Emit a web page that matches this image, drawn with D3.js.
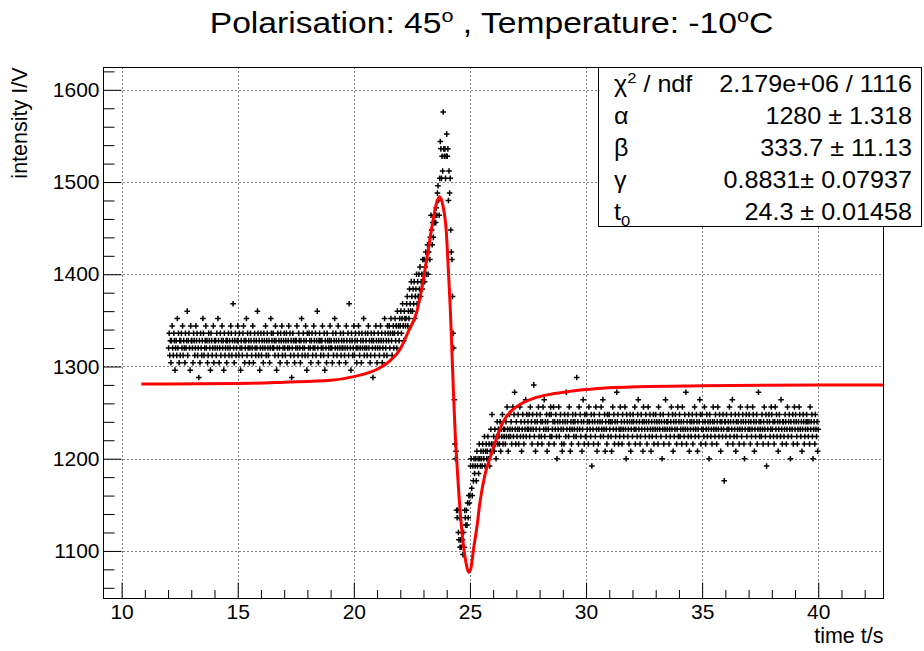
<!DOCTYPE html>
<html><head><meta charset="utf-8">
<script src="https://cdn.jsdelivr.net/npm/d3@7"></script>
<style>
html,body{margin:0;padding:0;background:#fff;}
svg{display:block;font-family:"Liberation Sans",Arial,Helvetica,sans-serif;}
</style></head>
<body><svg id="c" width="924" height="651"></svg>
<script>
// ---- sampling of the measured series ----
const tStart = 12.025, tStep = 0.025;
// baseline before the resonance (t 12.0 - 21.5)
const segA = [
1320,1336,1312,1328,1304,1328,1344,1320,1312,1336,1328,1296,1320,1328,1312,1352,1320,1336,1304,1328,
1312,1328,1336,1320,1344,1312,1328,1320,1304,1336,1320,1328,1360,1312,1328,1336,1320,1296,1344,1328,
1328,1320,1304,1336,1328,1312,1320,1344,1328,1336,1312,1320,1288,1328,1304,1336,1320,1312,1328,1352,
1336,1312,1320,1328,1344,1320,1328,1304,1312,1336,1328,1320,1296,1336,1328,1312,1320,1344,1304,1328,
1320,1328,1312,1336,1320,1352,1328,1304,1320,1336,1312,1328,1344,1320,1328,1296,1336,1312,1320,1328,
1304,1328,1320,1336,1312,1328,1320,1344,1336,1312,1328,1368,1320,1304,1328,1336,1312,1320,1328,1344,
1328,1312,1336,1320,1296,1328,1320,1312,1336,1344,1328,1304,1320,1328,1352,1312,1336,1320,1328,1304,
1320,1336,1328,1312,1320,1344,1304,1328,1336,1320,1312,1328,1320,1360,1336,1312,1328,1296,1320,1336,
1312,1328,1320,1304,1336,1328,1320,1344,1312,1328,1336,1320,1312,1328,1304,1320,1352,1336,1328,1320,
1336,1320,1328,1312,1344,1328,1296,1320,1336,1312,1328,1320,1304,1336,1328,1344,1312,1320,1328,1336,
1320,1312,1328,1336,1304,1320,1328,1344,1320,1336,1312,1328,1288,1320,1336,1328,1312,1304,1328,1320,
1328,1344,1320,1312,1336,1328,1320,1304,1328,1352,1312,1320,1336,1328,1320,1312,1344,1328,1296,1336,
1312,1320,1336,1328,1320,1304,1328,1336,1312,1320,1344,1328,1320,1336,1312,1328,1360,1320,1304,1328,
1336,1328,1312,1320,1328,1344,1320,1312,1336,1296,1328,1320,1304,1336,1328,1312,1320,1328,1344,1320,
1328,1320,1304,1336,1312,1328,1352,1320,1336,1328,1312,1320,1344,1328,1304,1320,1336,1312,1328,1320,
1320,1336,1328,1312,1320,1304,1344,1328,1320,1336,1312,1368,1328,1320,1296,1336,1328,1312,1320,1344,
1312,1328,1336,1320,1304,1328,1320,1344,1336,1312,1320,1328,1304,1336,1320,1328,1352,1312,1320,1336,
1328,1320,1312,1336,1344,1320,1328,1304,1312,1336,1328,1320,1288,1328,1336,1312,1320,1344,1328,1304,
1320,1336,1328,1312,1320,1344,1328,1336,1304,1320,1328,1312,1352,1336,1320,1328,1312,1344,1336];
// rising edge up to the maximum (t 21.5 - 23.9)
const segB = [
1328,1344,1320,1336,1352,1328,1312,1336,1344,1320,
1336,1352,1328,1344,1320,1360,1336,1344,1328,1352,
1344,1360,1336,1352,1368,1344,1328,1360,1352,1344,
1352,1368,1376,1344,1360,1352,1384,1368,1360,1392,
1376,1360,1384,1368,1392,1352,1376,1384,1400,1368,
1392,1376,1400,1384,1408,1376,1392,1400,1384,1416,
1400,1416,1392,1408,1424,1400,1416,1432,1400,1424,
1432,1416,1440,1464,1448,1432,1456,1440,1464,1456,
1464,1456,1472,1464,1488,1496,1480,1464,1504,1544,
1536,1504,1528,1512,1576,1536];
// fall and minimum (t 23.9 - 25.5)
const segC = [
1528,1536,1504,1528,1552,1528,1536,1480,1512,1488,
1504,1448,1424,1416,1376,1336,1320,1264,1216,1200,
1208,1144,1136,1144,1120,1112,1136,1104,1112,1104,
1120,1112,1096,1120,1104,1144,1136,1128,1144,1128,
1152,1136,1160,1152,1160,1192,1200,1168,1160,1192,
1176,1200,1184,1192,1200,1176,1208,1192,1200,1184,
1216,1200,1192,1208];
// recovery (t 25.5 - 27.5)
const segD = [
1200,1192,1216,1208,1200,1224,1192,1208,1216,1200,
1208,1224,1200,1216,1192,1208,1232,1216,1248,1208,
1216,1224,1208,1232,1216,1200,1224,1240,1216,1232,
1224,1216,1240,1208,1232,1224,1248,1216,1232,1224,
1232,1216,1240,1224,1256,1232,1208,1224,1248,1232,
1224,1240,1216,1232,1256,1224,1248,1272,1232,1216,
1240,1224,1232,1248,1216,1232,1256,1224,1240,1208,
1232,1248,1224,1216,1240,1232,1264,1224,1248,1232];
// baseline after the resonance (t 27.5 - 40.0)
const segE = [
1240,1232,1248,1224,1256,1232,1240,1216,1248,1232,1280,1224,1240,1208,1232,1248,1240,1216,1256,1224,
1232,1248,1240,1224,1216,1240,1256,1232,1264,1224,1240,1232,1248,1208,1240,1232,1216,1248,1224,1256,
1248,1224,1232,1240,1256,1216,1240,1232,1248,1224,1200,1240,1232,1256,1224,1240,1248,1232,1216,1208,
1240,1232,1216,1248,1240,1224,1272,1232,1240,1248,1224,1256,1232,1208,1240,1216,1232,1248,1240,1224,
1232,1240,1248,1224,1288,1232,1240,1216,1256,1232,1248,1224,1240,1208,1232,1264,1240,1216,1248,1224,
1224,1248,1232,1240,1216,1256,1240,1232,1224,1248,1192,1240,1232,1216,1248,1240,1224,1256,1232,1208,
1240,1216,1232,1248,1240,1224,1256,1232,1240,1264,1224,1232,1248,1208,1240,1232,1216,1248,1224,1240,
1248,1232,1240,1224,1208,1240,1256,1232,1248,1216,1240,1224,1232,1272,1240,1248,1216,1232,1224,1256,
1232,1240,1216,1248,1232,1224,1240,1256,1232,1200,1248,1240,1224,1232,1216,1240,1248,1208,1232,1240,
1224,1248,1240,1232,1256,1216,1232,1240,1224,1248,1264,1232,1240,1216,1224,1248,1232,1240,1208,1256,
1240,1232,1224,1248,1240,1216,1232,1256,1240,1224,1248,1232,1208,1240,1224,1232,1248,1216,1240,1232,
1248,1224,1240,1232,1216,1256,1240,1232,1248,1224,1240,1200,1232,1248,1216,1240,1232,1264,1224,1240,
1232,1240,1248,1216,1232,1224,1240,1256,1232,1248,1208,1240,1224,1232,1248,1240,1216,1232,1256,1224,
1240,1248,1224,1232,1240,1216,1256,1232,1240,1224,1248,1232,1272,1216,1240,1232,1224,1248,1208,1240,
1232,1224,1240,1248,1216,1232,1240,1256,1224,1232,1248,1240,1208,1232,1224,1240,1264,1248,1216,1232,
1248,1240,1232,1224,1256,1240,1216,1232,1248,1224,1240,1232,1200,1248,1240,1224,1232,1216,1240,1256,
1232,1240,1224,1248,1232,1216,1240,1256,1232,1224,1248,1240,1208,1232,1240,1224,1248,1232,1176,1240,
1240,1224,1248,1232,1216,1240,1232,1256,1224,1240,1248,1232,1264,1216,1240,1224,1232,1248,1208,1240,
1224,1232,1240,1248,1216,1232,1256,1240,1224,1232,1248,1240,1216,1200,1232,1240,1248,1224,1256,1232,
1240,1248,1232,1216,1240,1224,1232,1256,1248,1240,1208,1232,1224,1240,1248,1216,1232,1272,1240,1224,
1232,1240,1224,1248,1232,1216,1240,1256,1232,1224,1248,1192,1240,1232,1216,1248,1240,1224,1232,1256,
1248,1232,1240,1224,1216,1240,1256,1232,1248,1224,1240,1208,1232,1248,1240,1224,1264,1232,1216,1240,
1240,1224,1232,1248,1240,1216,1232,1256,1224,1240,1248,1232,1200,1240,1224,1232,1248,1216,1240,1256,
1232,1248,1240,1224,1216,1232,1240,1256,1248,1232,1224,1240,1208,1232,1248,1240,1216,1224,1232,1240,
1248,1240,1232,1224,1240,1216,1256,1232,1240,1248,1224,1200,1232,1240,1216,1248,1232,1224,1240,1208,
1232];

// ---- fitted curve ----
const fitT = [10.85,12,15,17,19,20,21,21.5,22,22.35,22.72,22.93,23.15,23.36,23.55,23.69,23.84,23.98,24.08,24.15,24.22,24.29,24.37,24.44,24.51,24.61,24.73,24.84,24.94,25.04,25.15,25.3,25.44,25.66,25.88,26.16,26.45,26.88,27.31,27.8,28.5,29.3,30.5,32.3,35,40,43];
const fitV = [1281,1281,1281.5,1283,1285,1289,1297,1305,1319,1338,1360,1385,1418,1451,1476,1484,1474,1447,1400,1365,1320,1272,1225,1195,1167,1133,1104,1086,1077,1081,1101,1126,1154,1184,1202,1223,1241,1254,1261,1266,1270,1273,1276,1278,1279,1280,1280];

// ---- axes ----
const xMajor = [10,15,20,25,30,35,40];
const xMinor = [11,12,13,14,16,17,18,19,21,22,23,24,26,27,28,29,31,32,33,34,36,37,38,39,41,42];
const yMajor = [1100,1200,1300,1400,1500,1600];
const yMinor = [1060,1080,1120,1140,1160,1180,1220,1240,1260,1280,1320,1340,1360,1380,1420,1440,1460,1480,1520,1540,1560,1580,1620];

// ---- fit statistics box ----
const statNames = ["chi2","alpha","beta","gamma","t0"];
const statValues = ["2.179e+06 / 1116","1280 \u00b1 1.318","333.7 \u00b1 11.13","0.8831\u00b1 0.07937","24.3 \u00b1 0.01458"];

const svg = d3.select("#c");
const F = {l:103.5, r:883.5, t:67.5, b:598.5};
const x = d3.scaleLinear().domain([9.22, 42.81]).range([F.l, F.r]);
const y = d3.scaleLinear().domain([1048.4, 1624.2]).range([F.b, F.t]);

// title (slightly wide face, as in the original rendering)
const title = svg.append("text").attr("transform","translate(491.5,33) scale(1.14,1)")
  .attr("text-anchor","middle").attr("font-size", 29.5).attr("fill","#000");
title.append("tspan").text("Polarisation: 45");
title.append("tspan").attr("dy",-11).attr("font-size",19).text("o");
title.append("tspan").attr("dy",11).text(" , Temperature: -10");
title.append("tspan").attr("dy",-11).attr("font-size",19).text("o");
title.append("tspan").attr("dy",11).text("C");

// grid
const grid = svg.append("g").attr("stroke","#000").attr("stroke-width",1).attr("stroke-dasharray","1,3");
grid.selectAll("line.gx").data(xMajor).join("line")
  .attr("x1", d=>Math.round(x(d))+0.5).attr("x2", d=>Math.round(x(d))+0.5).attr("y1",F.t).attr("y2",F.b);
grid.selectAll("line.gy").data(yMajor).join("line").attr("class","gy")
  .attr("y1", d=>Math.round(y(d))+0.5).attr("y2", d=>Math.round(y(d))+0.5).attr("x1",F.l).attr("x2",F.r);

// data points
const data = segA.concat(segB, segC, segD, segE).map((v,i)=>({t: tStart + i*tStep, v}));
svg.append("g").attr("stroke","#000").attr("stroke-width",1.5).attr("fill","none")
  .selectAll("path").data(data).join("path")
  .attr("d", d=>{const px=x(d.t), py=y(d.v); return `M${px-2.8},${py}H${px+2.8}M${px},${py-2.8}V${py+2.8}`;});

// fit curve
svg.append("clipPath").attr("id","clip").append("rect")
  .attr("x",F.l).attr("y",F.t).attr("width",F.r-F.l).attr("height",F.b-F.t);
const line = d3.line().x(d=>x(d[0])).y(d=>y(d[1])).curve(d3.curveMonotoneX);
svg.append("path").attr("clip-path","url(#clip)")
  .attr("d", line(fitT.map((t,i)=>[t, fitV[i]])))
  .attr("fill","none").attr("stroke","#ff0000").attr("stroke-width",3).attr("stroke-linejoin","round");

// axes (ticks inside the frame)
const gx = svg.append("g").attr("transform",`translate(0,${F.b})`);
gx.call(d3.axisBottom(x).tickValues(xMajor).tickSize(-16).tickPadding(6).tickFormat(d3.format("d")));
const gxm = svg.append("g").attr("transform",`translate(0,${F.b})`);
gxm.call(d3.axisBottom(x).tickValues(xMinor).tickSize(-8.5).tickFormat(""));
const gy = svg.append("g").attr("transform",`translate(${F.l},0)`);
gy.call(d3.axisLeft(y).tickValues(yMajor).tickSize(-18).tickPadding(4).tickFormat(d3.format("d")));
const gym = svg.append("g").attr("transform",`translate(${F.l},0)`);
gym.call(d3.axisLeft(y).tickValues(yMinor).tickSize(-11).tickFormat(""));
svg.selectAll(".domain").remove();
svg.selectAll(".tick line").attr("stroke","#000").attr("stroke-width",1);
svg.selectAll(".tick text").attr("font-size",21).attr("fill","#000")
  .attr("font-family",'"Liberation Sans",Arial,Helvetica,sans-serif');

// frame
svg.append("rect").attr("x",F.l).attr("y",F.t).attr("width",F.r-F.l).attr("height",F.b-F.t)
  .attr("fill","none").attr("stroke","#000").attr("stroke-width",1);

// axis titles
svg.append("text").attr("x",F.r).attr("y",643).attr("text-anchor","end").attr("font-size",21.5).text("time t/s");
svg.append("text").attr("transform",`translate(27,${F.t}) rotate(-90)`).attr("text-anchor","end")
  .attr("font-size",21.5).text("intensity I/V");

// stats box
const B = {l:598.5, t:67.5, r:921.5, b:226.5};
svg.append("rect").attr("x",B.l).attr("y",B.t).attr("width",B.r-B.l).attr("height",B.b-B.t)
  .attr("fill","#fff").attr("stroke","#000").attr("stroke-width",1);
const fs = 23.5, sx = 1.07;
statNames.forEach((n,i)=>{
  const by = 91.5 + 32*i;
  const lab = svg.append("text").attr("transform",`translate(614,${by}) scale(${sx},1)`).attr("font-size",fs);
  if(n==="chi2"){ lab.append("tspan").text("\u03c7"); lab.append("tspan").attr("dy",-9).attr("font-size",15.5).text("2"); lab.append("tspan").attr("dy",9).text(" / ndf"); }
  else if(n==="alpha") lab.text("\u03b1");
  else if(n==="beta") lab.text("\u03b2");
  else if(n==="gamma") lab.text("\u03b3");
  else { lab.append("tspan").text("t"); lab.append("tspan").attr("dy",6).attr("font-size",15.5).text("0"); }
  svg.append("text").attr("transform",`translate(912,${by}) scale(${sx},1)`).attr("text-anchor","end")
    .attr("font-size",fs).text(statValues[i]);
});
</script>
</body></html>
